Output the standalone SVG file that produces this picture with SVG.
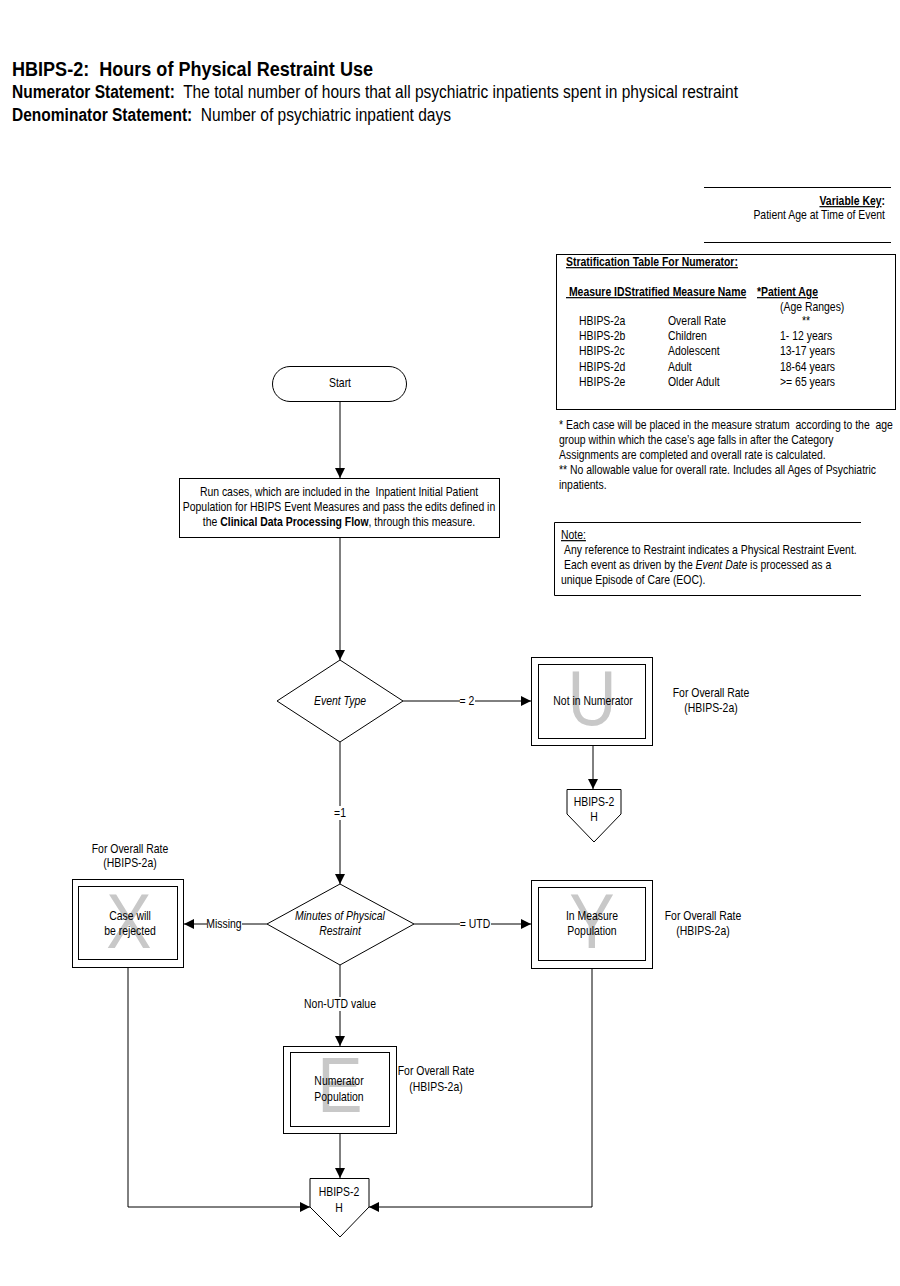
<svg xmlns="http://www.w3.org/2000/svg" width="900" height="1286" viewBox="0 0 900 1286">
<style>
text{font-family:"Liberation Sans",Arial,sans-serif;fill:#000}
.t{font-size:12px}
.c{text-anchor:middle}
.e{text-anchor:end}
.b{font-weight:bold}
.i{font-style:italic}
.u{text-decoration:underline}
.big{font-size:78px;fill:#c8c8c8;text-anchor:middle}
.sh{fill:#fff;stroke:#000;stroke-width:1}
.ln{fill:none;stroke:#000;stroke-width:1}
</style>
<defs>
<marker id="ah" markerWidth="10" markerHeight="10" refX="10" refY="5" orient="auto" markerUnits="userSpaceOnUse">
<path d="M0,0 L10,5 L0,10 Z" fill="#000"/>
</marker>
</defs>
<rect width="900" height="1286" fill="#fff"/>

<g id="header">
<text x="12" y="76" class="b" font-size="20.5" xml:space="preserve" textLength="361" lengthAdjust="spacingAndGlyphs">HBIPS-2:  Hours of Physical Restraint Use</text>
<text x="12" y="97.5" font-size="17.5" xml:space="preserve" textLength="726" lengthAdjust="spacingAndGlyphs"><tspan class="b">Numerator Statement:</tspan>  The total number of hours that all psychiatric inpatients spent in physical restraint</text>
<text x="12" y="121" font-size="17.5" xml:space="preserve" textLength="439" lengthAdjust="spacingAndGlyphs"><tspan class="b">Denominator Statement:</tspan>  Number of psychiatric inpatient days</text>
</g>

<g id="variable-key">
<line x1="704" y1="187.5" x2="891" y2="187.5" class="ln"/>
<text class="t b e" transform="translate(885 205) scale(.87 1)"><tspan class="u">Variable Key</tspan>:</text>
<text class="t e" transform="translate(885 219) scale(.87 1)">Patient Age at Time of Event</text>
<line x1="704" y1="242.5" x2="891" y2="242.5" class="ln"/>
</g>

<g id="stratification-table">
<rect x="556.5" y="254.5" width="339" height="155" class="sh"/>
<text class="t b u" transform="translate(566 266) scale(.87 1)">Stratification Table For Numerator:</text>
<text class="t b u" xml:space="preserve" transform="translate(566 296) scale(.87 1)"> Measure IDStratified Measure Name</text>
<text class="t b u" transform="translate(757 296) scale(.87 1)">*Patient Age</text>
<text class="t" transform="translate(780 311) scale(.87 1)">(Age Ranges)</text>
<text class="t" transform="translate(579 325) scale(.87 1)">HBIPS-2a</text><text class="t" transform="translate(668 325) scale(.87 1)">Overall Rate</text><text class="t c" transform="translate(806 325) scale(.87 1)">**</text>
<text class="t" transform="translate(579 340) scale(.87 1)">HBIPS-2b</text><text class="t" transform="translate(668 340) scale(.87 1)">Children</text><text class="t" transform="translate(780 340) scale(.87 1)">1- 12 years</text>
<text class="t" transform="translate(579 355) scale(.87 1)">HBIPS-2c</text><text class="t" transform="translate(668 355) scale(.87 1)">Adolescent</text><text class="t" transform="translate(780 355) scale(.87 1)">13-17 years</text>
<text class="t" transform="translate(579 371) scale(.87 1)">HBIPS-2d</text><text class="t" transform="translate(668 371) scale(.87 1)">Adult</text><text class="t" transform="translate(780 371) scale(.87 1)">18-64 years</text>
<text class="t" transform="translate(579 386) scale(.87 1)">HBIPS-2e</text><text class="t" transform="translate(668 386) scale(.87 1)">Older Adult</text><text class="t" transform="translate(780 386) scale(.87 1)">&gt;= 65 years</text>
</g>

<g id="footnotes">
<text class="t" xml:space="preserve" transform="translate(559 429) scale(.87 1)">* Each case will be placed in the measure stratum  according to the  age</text>
<text class="t" transform="translate(559 444) scale(.87 1)">group within which the case’s age falls in after the Category</text>
<text class="t" transform="translate(559 459) scale(.87 1)">Assignments are completed and overall rate is calculated.</text>
<text class="t" transform="translate(559 474) scale(.87 1)">** No allowable value for overall rate. Includes all Ages of Psychiatric</text>
<text class="t" transform="translate(559 489) scale(.87 1)">inpatients.</text>
</g>

<g id="note">
<path d="M861,522.5 H554.5 V595.5 H861" class="ln"/>
<text class="t u" transform="translate(561 539) scale(.87 1)">Note:</text>
<text class="t" transform="translate(564 554) scale(.87 1)">Any reference to Restraint indicates a Physical Restraint Event.</text>
<text class="t" transform="translate(564 569) scale(.87 1)">Each event as driven by the <tspan class="i">Event Date</tspan> is processed as a</text>
<text class="t" transform="translate(561 584) scale(.87 1)">unique Episode of Care (EOC).</text>
</g>

<g id="connectors">
<line x1="340" y1="401" x2="340" y2="478" class="ln" marker-end="url(#ah)"/>
<line x1="340" y1="537" x2="340" y2="660" class="ln" marker-end="url(#ah)"/>
<line x1="403" y1="701" x2="531" y2="701" class="ln" marker-end="url(#ah)"/>
<line x1="593" y1="745" x2="593" y2="789" class="ln" marker-end="url(#ah)"/>
<line x1="340" y1="742" x2="340" y2="884" class="ln" marker-end="url(#ah)"/>
<line x1="267" y1="924" x2="184" y2="924" class="ln" marker-end="url(#ah)"/>
<line x1="414" y1="924" x2="531" y2="924" class="ln" marker-end="url(#ah)"/>
<line x1="340" y1="965" x2="340" y2="1046" class="ln" marker-end="url(#ah)"/>
<line x1="340" y1="1133" x2="340" y2="1178" class="ln" marker-end="url(#ah)"/>
<polyline points="128,967 128,1207 310,1207" class="ln" marker-end="url(#ah)"/>
<polyline points="592,969 592,1207 369,1207" class="ln" marker-end="url(#ah)"/>
<rect x="460" y="694" width="15" height="14" fill="#fff"/>
<text class="t c" transform="translate(467 705) scale(.87 1)">= 2</text>
<rect x="333" y="806" width="14" height="14" fill="#fff"/>
<text class="t c" transform="translate(340 817) scale(.87 1)">=1</text>
<rect x="207" y="917" width="35" height="14" fill="#fff"/>
<text class="t c" transform="translate(224 928) scale(.87 1)">Missing</text>
<rect x="460" y="917" width="31" height="14" fill="#fff"/>
<text class="t c" transform="translate(475 928) scale(.87 1)">= UTD</text>
<rect x="305" y="997" width="70" height="14" fill="#fff"/>
<text class="t c" transform="translate(340 1008) scale(.87 1)">Non-UTD value</text>
</g>

<g id="start">
<rect x="272.5" y="366.5" width="134" height="35" rx="17.5" class="sh"/>
<text class="t c" transform="translate(340 387) scale(.87 1)">Start</text>
</g>

<g id="run-cases">
<rect x="179.5" y="478.5" width="320" height="59" class="sh"/>
<text class="t c" xml:space="preserve" transform="translate(339 496) scale(.87 1)">Run cases, which are included in the  Inpatient Initial Patient</text>
<text class="t c" transform="translate(339 511) scale(.87 1)">Population for HBIPS Event Measures and pass the edits defined in</text>
<text class="t c" transform="translate(339 526) scale(.87 1)">the <tspan class="b">Clinical Data Processing Flow</tspan>, through this measure.</text>
</g>

<g id="event-type">
<polygon points="277,701 340,660 403,701 340,742" class="sh"/>
<text class="t c i" transform="translate(340 705) scale(.87 1)">Event Type</text>
</g>

<g id="not-in-numerator">
<rect x="531.5" y="657.5" width="121" height="88" class="sh"/>
<rect x="538.5" y="664.5" width="107" height="74" class="sh"/>
<text class="big" transform="translate(592 725) scale(.87 1)">U</text>
<text class="t c" transform="translate(593 705) scale(.87 1)">Not in Numerator</text>
<text class="t c" transform="translate(711 697) scale(.87 1)">For Overall Rate</text>
<text class="t c" transform="translate(711 712) scale(.87 1)">(HBIPS-2a)</text>
</g>

<g id="offpage-1">
<polygon points="567,789.5 621,789.5 621,814 594,842 567,814" class="sh"/>
<text class="t c" transform="translate(594 806) scale(.87 1)">HBIPS-2</text>
<text class="t c" transform="translate(594 821) scale(.87 1)">H</text>
</g>

<g id="minutes">
<polygon points="267,924 340,884 414,924 340,965" class="sh"/>
<text class="t c i" transform="translate(340 920) scale(.87 1)">Minutes of Physical</text>
<text class="t c i" transform="translate(340 935) scale(.87 1)">Restraint</text>
</g>

<g id="rejected">
<rect x="72.5" y="879.5" width="111" height="88" class="sh"/>
<rect x="78.5" y="886.5" width="99" height="73" class="sh"/>
<text class="big" transform="translate(129 948) scale(.87 1)">X</text>
<text class="t c" transform="translate(130 920) scale(.87 1)">Case will</text>
<text class="t c" transform="translate(130 935) scale(.87 1)">be rejected</text>
<text class="t c" transform="translate(130 853) scale(.87 1)">For Overall Rate</text>
<text class="t c" transform="translate(130 867) scale(.87 1)">(HBIPS-2a)</text>
</g>

<g id="in-measure">
<rect x="531.5" y="880.5" width="121" height="88" class="sh"/>
<rect x="538.5" y="887.5" width="107" height="73" class="sh"/>
<text class="big" transform="translate(592 948) scale(.87 1)">Y</text>
<text class="t c" transform="translate(592 920) scale(.87 1)">In Measure</text>
<text class="t c" transform="translate(592 935) scale(.87 1)">Population</text>
<text class="t c" transform="translate(703 920) scale(.87 1)">For Overall Rate</text>
<text class="t c" transform="translate(703 935) scale(.87 1)">(HBIPS-2a)</text>
</g>

<g id="numerator-pop">
<rect x="283.5" y="1046.5" width="113" height="87" class="sh"/>
<rect x="290.5" y="1052.5" width="99" height="74" class="sh"/>
<text class="big" transform="translate(340 1112) scale(.87 1)">E</text>
<text class="t c" transform="translate(339 1085) scale(.87 1)">Numerator</text>
<text class="t c" transform="translate(339 1101) scale(.87 1)">Population</text>
<text class="t c" transform="translate(436 1075) scale(.87 1)">For Overall Rate</text>
<text class="t c" transform="translate(436 1091) scale(.87 1)">(HBIPS-2a)</text>
</g>

<g id="offpage-2">
<polygon points="310,1178.5 369,1178.5 369,1207 340,1237 310,1207" class="sh"/>
<text class="t c" transform="translate(339 1196) scale(.87 1)">HBIPS-2</text>
<text class="t c" transform="translate(339 1212) scale(.87 1)">H</text>
</g>
</svg>
